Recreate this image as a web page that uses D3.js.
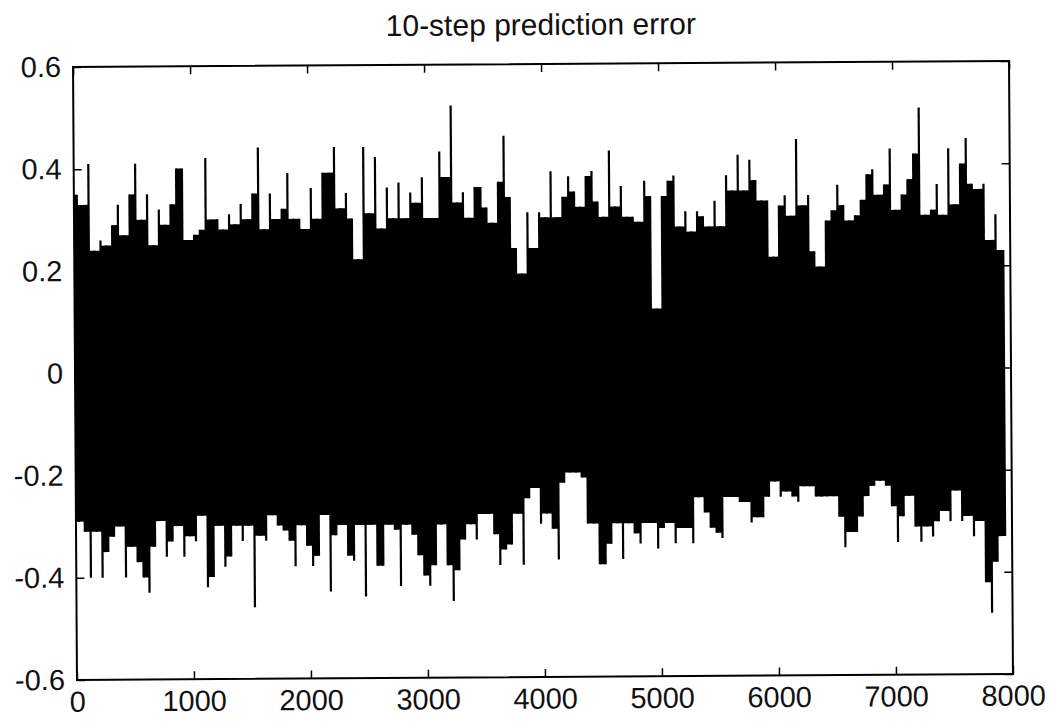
<!DOCTYPE html>
<html>
<head>
<meta charset="utf-8">
<script src="https://cdn.jsdelivr.net/npm/d3@7"></script>
<style>
  body { margin: 0; background: #fff; }
  svg { display: block; }
  text { font-family: "Liberation Sans", Arial, sans-serif; fill: #111; }
</style>
</head>
<body>
<svg width="1054" height="724"></svg>
<script>
// prediction error, summarised as per-bin max / min (bins of 50 samples)
const binSize = 50;
const errHi = [
  0.35, 0.33, 0.41, 0.24, 0.26, 0.25, 0.29, 0.33, 0.27, 0.35, 0.41, 0.30, 0.35, 0.25, 0.32, 0.29, 0.33, 0.40, 0.40, 0.26,
  0.27, 0.28, 0.42, 0.30, 0.30, 0.28, 0.31, 0.29, 0.33, 0.30, 0.35, 0.44, 0.28, 0.35, 0.30, 0.32, 0.39, 0.30, 0.30, 0.28,
  0.36, 0.30, 0.39, 0.39, 0.44, 0.32, 0.35, 0.30, 0.22, 0.44, 0.31, 0.42, 0.28, 0.36, 0.30, 0.37, 0.30, 0.35, 0.33, 0.38, 0.30,
  0.30, 0.43, 0.38, 0.52, 0.33, 0.35, 0.30, 0.36, 0.36, 0.32, 0.29, 0.37, 0.46, 0.34, 0.24, 0.19, 0.31, 0.24, 0.31, 0.30,
  0.39, 0.30, 0.34, 0.38, 0.35, 0.32, 0.38, 0.39, 0.33, 0.30, 0.43, 0.32, 0.36, 0.30, 0.30, 0.29, 0.37, 0.34, 0.12, 0.34, 0.37,
  0.38, 0.28, 0.31, 0.27, 0.31, 0.30, 0.28, 0.33, 0.28, 0.38, 0.35, 0.42, 0.35, 0.41, 0.37, 0.33, 0.33, 0.22, 0.32, 0.34,
  0.30, 0.45, 0.32, 0.34, 0.23, 0.20, 0.29, 0.31, 0.36, 0.32, 0.29, 0.30, 0.33, 0.38, 0.39, 0.34, 0.36, 0.43, 0.31, 0.34,
  0.37, 0.42, 0.51, 0.30, 0.31, 0.36, 0.30, 0.43, 0.32, 0.40, 0.45, 0.36, 0.35, 0.36, 0.25, 0.30, 0.23
];
const errLo = [
  -0.29, -0.31, -0.40, -0.31, -0.40, -0.35, -0.32, -0.30, -0.40, -0.34, -0.37, -0.40, -0.43, -0.34, -0.29, -0.36, -0.33, -0.30, -0.36, -0.32,
  -0.33, -0.28, -0.42, -0.40, -0.30, -0.38, -0.36, -0.30, -0.33, -0.30, -0.46, -0.32, -0.33, -0.28, -0.30, -0.31, -0.33, -0.38, -0.30, -0.34,
  -0.38, -0.36, -0.28, -0.43, -0.32, -0.30, -0.36, -0.37, -0.30, -0.44, -0.30, -0.38, -0.38, -0.30, -0.31, -0.42, -0.30, -0.32, -0.36, -0.40, -0.42,
  -0.38, -0.30, -0.38, -0.45, -0.39, -0.33, -0.30, -0.33, -0.28, -0.28, -0.32, -0.38, -0.35, -0.34, -0.28, -0.38, -0.25, -0.23, -0.30, -0.28,
  -0.31, -0.37, -0.22, -0.20, -0.20, -0.21, -0.30, -0.30, -0.38, -0.38, -0.34, -0.30, -0.37, -0.30, -0.32, -0.34, -0.30, -0.30, -0.35, -0.31, -0.30,
  -0.34, -0.31, -0.31, -0.34, -0.25, -0.28, -0.31, -0.32, -0.33, -0.25, -0.25, -0.26, -0.26, -0.30, -0.29, -0.29, -0.25, -0.22, -0.25, -0.24,
  -0.25, -0.26, -0.23, -0.23, -0.25, -0.25, -0.25, -0.25, -0.29, -0.35, -0.32, -0.32, -0.29, -0.25, -0.23, -0.22, -0.23, -0.27, -0.34, -0.29,
  -0.25, -0.31, -0.34, -0.31, -0.33, -0.30, -0.28, -0.30, -0.24, -0.30, -0.29, -0.33, -0.30, -0.42, -0.48, -0.38, -0.33
];
const xTicks = [0, 1000, 2000, 3000, 4000, 5000, 6000, 7000, 8000];
const yTicks = [-0.6, -0.4, -0.2, 0, 0.2, 0.4, 0.6];
const title = "10-step prediction error";

const margin = { top: 64, right: 43, bottom: 47, left: 75 },
  width = 1054 - margin.left - margin.right,
  height = 724 - margin.top - margin.bottom;

const svg = d3.select("svg");
// the scanned figure is tilted a little
const g = svg
  .append("g")
  .attr("transform", `rotate(-0.37, 543, 370.5) translate(${margin.left},${margin.top})`);

const x = d3.scaleLinear().domain([0, 8000]).range([0, width]);
const y = d3.scaleLinear().domain([-0.6, 0.6]).range([height, 0]);

const n = errHi.length;
const bins = errHi.map((h, i) => ({ mid: i * binSize + binSize / 2, hi: h, lo: errLo[i] }));

// dense body: between neighbouring bins the trace only reaches the lower of the two peaks
const body = [{ s: 0, hi: errHi[0], lo: errLo[0] }];
for (let i = 0; i < n - 1; i++) {
  body.push({
    s: bins[i].mid,
    hi: Math.min(errHi[i], errHi[i + 1]),
    lo: Math.max(errLo[i], errLo[i + 1]),
  });
}
body.push({ s: bins[n - 1].mid, hi: errHi[n - 1], lo: errLo[n - 1] });
body.push({ s: n * binSize, hi: errHi[n - 1], lo: errLo[n - 1] });

const area = d3
  .area()
  .curve(d3.curveStepAfter)
  .x((d) => x(d.s))
  .y0((d) => y(d.lo))
  .y1((d) => y(d.hi));

g.append("path").datum(body).attr("d", area).attr("fill", "#000");

// the single peaks of every bin
g.append("g")
  .selectAll("line")
  .data(bins)
  .join("line")
  .attr("x1", (d) => x(d.mid))
  .attr("x2", (d) => x(d.mid))
  .attr("y1", (d) => y(d.hi))
  .attr("y2", (d) => y(d.lo))
  .attr("stroke", "#000")
  .attr("stroke-width", 2.2);

const fmt = (d) => (d === 0 ? "0" : d.toFixed(1));

g.append("g")
  .attr("transform", `translate(0,${height})`)
  .call(d3.axisBottom(x).tickValues(xTicks).tickSize(-8).tickPadding(11).tickFormat(d3.format("d")))
  .call((a) => a.select(".domain").remove());
g.append("g")
  .call(d3.axisTop(x).tickValues(xTicks).tickSize(-8).tickFormat(""))
  .call((a) => a.select(".domain").remove());
g.append("g")
  .call(d3.axisLeft(y).tickValues(yTicks).tickSize(-8).tickPadding(12).tickFormat(fmt))
  .call((a) => a.select(".domain").remove());
g.append("g")
  .attr("transform", `translate(${width},0)`)
  .call(d3.axisRight(y).tickValues(yTicks).tickSize(-8).tickFormat(""))
  .call((a) => a.select(".domain").remove());

g.selectAll(".tick line").attr("stroke", "#000").attr("stroke-width", 1.5);
g.selectAll(".tick text").style("font-size", "29px").attr("fill", "#111");

g.append("rect")
  .attr("width", width)
  .attr("height", height)
  .attr("fill", "none")
  .attr("stroke", "#000")
  .attr("stroke-width", 2);

g.append("text")
  .attr("x", width / 2)
  .attr("y", -29)
  .attr("text-anchor", "middle")
  .style("font-size", "30px")
  .text(title);
</script>
</body>
</html>
